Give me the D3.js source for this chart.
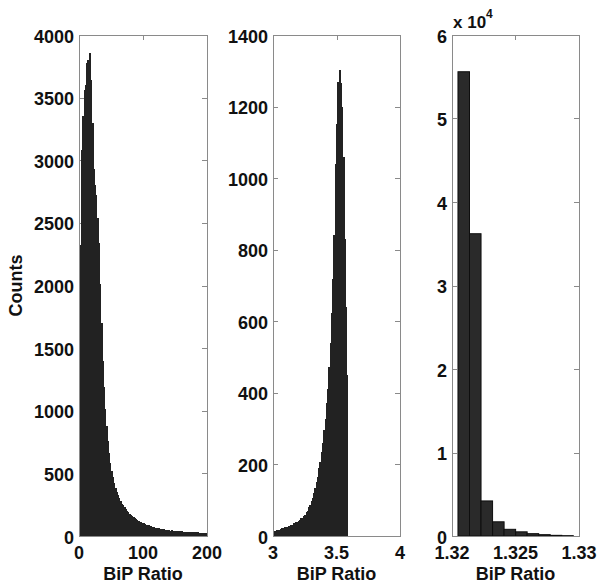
<!DOCTYPE html>
<html>
<head>
<meta charset="utf-8">
<script src="https://cdn.jsdelivr.net/npm/d3@7/dist/d3.min.js"></script>
<style>
  html, body { margin: 0; padding: 0; background: #fff; }
  svg { display: block; }
  text { font-family: "Liberation Sans", Arial, sans-serif; font-weight: bold; fill: #111; }
</style>
</head>
<body>
<svg id="chart" width="604" height="588"></svg>
<script>
// ---------- Data ----------
// Panel 1: histogram of BiP Ratio, bins of width 2 from 0 to 200
const p1BinStart = 0;
const p1BinWidth = 2;
const p1Counts = [
  1700, 2320, 3080, 3350, 3560, 3600, 3780, 3800, 3860, 3640,
  3300, 2930, 2800, 2720, 2540, 2340, 2010, 1700, 1400, 1190,
  1010, 880, 760, 665, 580, 515, 468, 420, 386, 352,
  327, 300, 281, 259, 246, 229, 216, 201, 190, 176,
  170, 158, 152, 141, 137, 126, 123, 114, 111, 103,
  100, 93, 91, 85, 84, 77, 77, 71, 70, 66,
  65, 60, 61, 56, 57, 52, 53, 49, 50, 46,
  47, 43, 44, 41, 42, 38, 40, 37, 38, 35,
  36, 33, 35, 32, 33, 30, 32, 29, 30, 28,
  29, 26, 28, 25, 27, 24, 26, 23, 25, 22
];
const p1XTicks = [0, 100, 200];
const p1YTicks = [0, 500, 1000, 1500, 2000, 2500, 3000, 3500, 4000];

// Panel 2: bins of width 0.01 from 3.00 to 3.59
const p2BinStart = 3.0;
const p2BinWidth = 0.01;
const p2Counts = [
  12, 13, 14, 16, 16, 18, 19, 21, 21, 24,
  25, 26, 28, 29, 31, 32, 35, 34, 38, 39,
  42, 44, 49, 51, 57, 59, 66, 71, 80, 87,
  98, 107, 121, 133, 151, 166, 189, 208, 236, 260,
  296, 328, 372, 412, 472, 538, 622, 718, 840, 1040,
  1150, 1270, 1302, 1265, 1200, 1060, 830, 640, 450
];
const p2XTicks = [3, 3.5, 4];
const p2YTicks = [0, 200, 400, 600, 800, 1000, 1200, 1400];

// Panel 3: 10 bins
const p3BinStart = 1.32047;
const p3BinWidth = 0.000908;
const p3Counts = [55600, 36200, 4200, 1700, 800, 500, 280, 160, 80, 40];
const p3XTicks = [1.32, 1.325, 1.33];
const p3XTickLabels = ["1.32", "1.325", "1.33"];
const p3YTicks = [0, 10000, 20000, 30000, 40000, 50000, 60000];

const xLabel = "BiP Ratio";
const yLabel = "Counts";

// ---------- Layout ----------
const svg = d3.select("#chart");
const plotTop = 35, plotBottom = 536;
const axisColor = "#8a8a8a";
const barColor = "#222222";
const tickLen = 5;

function panel(cfg) {
  const x = d3.scaleLinear().domain(cfg.xDomain).range([cfg.left, cfg.right]);
  const y = d3.scaleLinear().domain(cfg.yDomain).range([plotBottom, plotTop]);
  const g = svg.append("g");

  // inner ticks (under bars)
  const tg = g.append("g").attr("stroke", axisColor).attr("stroke-width", 1);
  cfg.yTicks.forEach(t => {
    const yy = Math.round(y(t)) + 0.5;
    tg.append("line").attr("x1", cfg.left).attr("x2", cfg.left + tickLen).attr("y1", yy).attr("y2", yy);
    tg.append("line").attr("x1", cfg.right - tickLen).attr("x2", cfg.right).attr("y1", yy).attr("y2", yy);
  });
  cfg.xTicks.forEach(t => {
    const xx = Math.round(x(t)) + 0.5;
    tg.append("line").attr("x1", xx).attr("x2", xx).attr("y1", plotBottom).attr("y2", plotBottom - tickLen);
    tg.append("line").attr("x1", xx).attr("x2", xx).attr("y1", plotTop).attr("y2", plotTop + tickLen);
  });

  // bars
  const bins = cfg.counts.map((c, i) => ({
    x0: cfg.binStart + i * cfg.binWidth,
    x1: cfg.binStart + (i + 1) * cfg.binWidth,
    c: c
  }));
  const bars = g.append("g").selectAll("rect").data(bins).join("rect")
    .attr("y", d => y(d.c))
    .attr("height", d => y(0) - y(d.c))
    .attr("fill", cfg.fill || barColor);
  if (cfg.outlined) {
    bars.attr("x", d => x(d.x0))
      .attr("width", d => x(d.x1) - x(d.x0))
      .attr("stroke", cfg.stroke)
      .attr("stroke-width", 1);
  } else {
    bars.attr("shape-rendering", "crispEdges")
      .attr("x", d => Math.floor(x(d.x0)))
      .attr("width", d => Math.ceil(x(d.x1)) - Math.floor(x(d.x0)))
      .attr("y", d => Math.round(y(d.c)))
      .attr("height", d => Math.round(y(0)) - Math.round(y(d.c)));
  }

  // box
  g.append("rect")
    .attr("x", cfg.left + 0.5).attr("y", plotTop + 0.5)
    .attr("width", cfg.right - cfg.left).attr("height", plotBottom - plotTop)
    .attr("fill", "none").attr("stroke", axisColor).attr("stroke-width", 1);

  // y tick labels
  g.append("g").selectAll("text").data(cfg.yTicks).join("text")
    .attr("x", cfg.left - 5)
    .attr("y", d => y(d) + 7.5)
    .attr("text-anchor", "end")
    .attr("font-size", 18)
    .text(cfg.yFormat || (d => d));

  // x tick labels
  g.append("g").selectAll("text").data(cfg.xTicks).join("text")
    .attr("x", d => x(d))
    .attr("y", 559)
    .attr("text-anchor", "middle")
    .attr("font-size", 18)
    .text((d, i) => cfg.xLabels ? cfg.xLabels[i] : d);

  // x axis label
  g.append("text")
    .attr("x", (cfg.left + cfg.right) / 2)
    .attr("y", 580)
    .attr("text-anchor", "middle")
    .attr("font-size", 18)
    .text(xLabel);

  return { x, y, g };
}

panel({
  left: 79, right: 207,
  xDomain: [0, 200], yDomain: [0, 4000],
  xTicks: p1XTicks, yTicks: p1YTicks,
  counts: p1Counts, binStart: p1BinStart, binWidth: p1BinWidth
});

panel({
  left: 273, right: 400,
  xDomain: [3, 4], yDomain: [0, 1400],
  xTicks: p2XTicks, yTicks: p2YTicks,
  counts: p2Counts, binStart: p2BinStart, binWidth: p2BinWidth
});

panel({
  left: 452, right: 579,
  xDomain: [1.32, 1.33], yDomain: [0, 60000],
  xTicks: p3XTicks, xLabels: p3XTickLabels, yTicks: p3YTicks,
  yFormat: d => d / 10000,
  counts: p3Counts, binStart: p3BinStart, binWidth: p3BinWidth,
  outlined: true, fill: "#2a2a2a", stroke: "#0e0e0e"
});

// exponent label
const ex = svg.append("text").attr("x", 453).attr("y", 28)
  .attr("font-size", 17).attr("font-weight", "normal");
ex.append("tspan").text("x 10");
ex.append("tspan").attr("dy", -10).attr("font-size", 12).text("4");

// y axis label
svg.append("text")
  .attr("transform", "translate(21.5,285.5) rotate(-90)")
  .attr("text-anchor", "middle")
  .attr("font-size", 18)
  .text(yLabel);
</script>
</body>
</html>
